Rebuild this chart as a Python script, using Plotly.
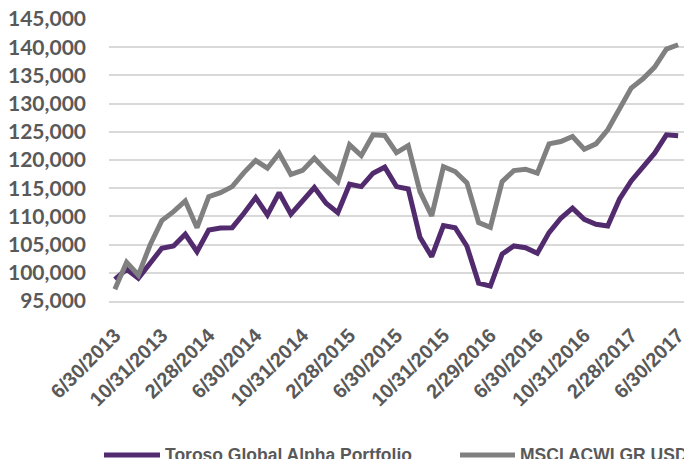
import pandas as pd
import plotly.graph_objects as go

# Month-end dates (categories)
DATES = [f"{d.month}/{d.day}/{d.year}" for d in pd.date_range("2013-06-30", periods=49, freq="ME")]

TICK_LABELS = ["6/30/2013", "10/31/2013", "2/28/2014", "6/30/2014", "10/31/2014",
               "2/28/2015", "6/30/2015", "10/31/2015", "2/29/2016", "6/30/2016",
               "10/31/2016", "2/28/2017", "6/30/2017"]

SERIES_1_NAME = "Toroso Global Alpha Portfolio"
SERIES_1 = [98840, 100620, 99020, 101790, 104350, 104760, 106830, 103740, 107600, 107950,
            108000, 110560, 113330, 110260, 114200, 110400, 112800, 115110, 112330, 110670,
            115710, 115280, 117660, 118730, 115280, 114870, 106300, 102860, 108360, 108000,
            104700, 98180, 97650, 103330, 104760, 104450, 103460, 107120, 109670, 111450,
            109490, 108610, 108310, 113050, 116290, 118660, 121210, 124460, 124280]

SERIES_2_NAME = "MSCI ACWI GR USD"
SERIES_2 = [97070, 101860, 99600, 104930, 109250, 110850, 112740, 108000, 113500, 114200,
            115280, 117770, 119900, 118550, 121210, 117450, 118150, 120320, 118120, 116170,
            122690, 120790, 124460, 124340, 121320, 122560, 114400, 110080, 118830, 117950,
            115950, 108900, 108070, 116170, 118120, 118370, 117660, 122860, 123270, 124160,
            121920, 122860, 125350, 128900, 132750, 134400, 136480, 139670, 140440]

PURPLE = "#522A6E"
GREY = "#808080"
TEXT = "#595959"
GRID = "#D9D9D9"

fig = go.Figure()
fig.add_trace(go.Scatter(x=DATES, y=SERIES_1, name=SERIES_1_NAME, mode="lines",
                         line=dict(color=PURPLE, width=5)))
fig.add_trace(go.Scatter(x=DATES, y=SERIES_2, name=SERIES_2_NAME, mode="lines",
                         line=dict(color=GREY, width=5)))

W, H = 684, 459
ML, MR, MT, MB = 109, 0, 19, 158
PW, PH = W - ML - MR, H - MT - MB

def px_x(p):
    return (p - ML) / PW

def px_y(p):
    return (H - MB - p) / PH

fig.update_layout(
    width=W, height=H,
    margin=dict(l=ML, r=MR, t=MT, b=MB, pad=0, autoexpand=False),
    paper_bgcolor="white", plot_bgcolor="white",
    showlegend=False,
    xaxis=dict(type="category", range=[-0.5, len(DATES) - 0.5], automargin=False,
               tickmode="array", tickvals=TICK_LABELS, ticktext=TICK_LABELS,
               tickangle=-45, showgrid=False, showline=True, linecolor=GRID, linewidth=1.5,
               ticks="", ticklabelstandoff=13,
               tickfont=dict(family="Arial", size=20, color=TEXT, weight="bold")),
    yaxis=dict(range=[95000, 145000], dtick=5000, tickformat=",", automargin=False,
               showgrid=True, gridcolor=GRID, gridwidth=1.5, zeroline=False,
               ticks="", ticklabelstandoff=22,
               tickfont=dict(family="Lato", size=21, color=TEXT, weight="bold")),
)

# Legend drawn as line samples + labels below the plot
legend_items = [(SERIES_1_NAME, PURPLE, 104, 160), (SERIES_2_NAME, GREY, 460, 515)]
for name, color, x0, x1 in legend_items:
    fig.add_shape(type="line", xref="paper", yref="paper",
                  x0=px_x(x0), x1=px_x(x1), y0=px_y(455), y1=px_y(455),
                  line=dict(color=color, width=5))
    fig.add_annotation(xref="paper", yref="paper", x=px_x(x1 + 3), y=px_y(455),
                       xanchor="left", yanchor="middle", showarrow=False, text=name,
                       font=dict(family="Arial", size=17.5, color=TEXT, weight="bold"))

fig.write_html("out.html", config={"displayModeBar": False},
               post_script="document.body.style.margin='0';")
